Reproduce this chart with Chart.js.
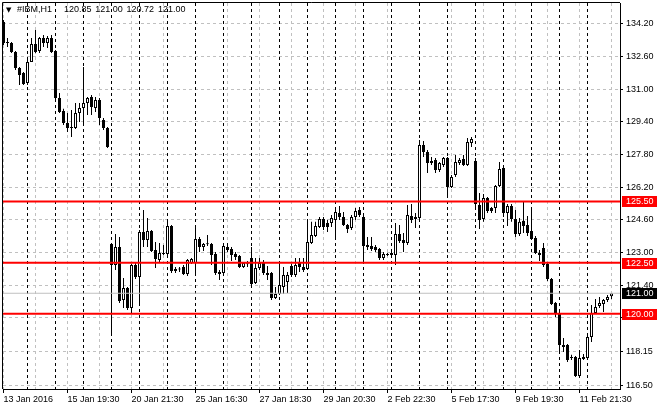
<!DOCTYPE html>
<html>
<head>
<meta charset="utf-8">
<script src="https://cdn.jsdelivr.net/npm/chart.js@4.4.1/dist/chart.umd.min.js"></script>
<style>
  html, body { margin: 0; padding: 0; background: #fff; }
</style>
</head>
<body>
<canvas id="chart" width="660" height="410"></canvas>
<script>
// IBM H1 candles (oldest first)
const symbol = '#IBM,H1';
const opens = [
  134.30, 133.32, 133.27, 132.83, 132.04, 131.80, 131.31, 132.34, 133.22, 132.88,
  133.51, 133.27, 133.51, 132.88, 130.57, 129.94, 129.35, 129.15, 129.10, 129.84,
  130.08, 130.33, 130.62, 130.08, 130.47, 129.49, 129.10, 123.42, 122.39, 123.27,
  120.67, 121.26, 120.28, 122.39, 121.80, 124.00, 123.61, 124.05, 123.12, 122.63,
  122.97, 122.93, 124.30, 122.19, 122.19, 122.29, 121.95, 122.48, 122.48, 123.66,
  123.27, 123.42, 123.42, 122.93, 122.04, 121.99, 123.27, 123.17, 122.93, 122.83,
  122.29, 122.44, 122.73, 121.50, 122.24, 122.48, 121.99, 121.99, 120.77, 120.96,
  121.31, 121.55, 122.34, 121.90, 122.48, 122.29, 122.19, 123.46, 123.81, 124.25,
  124.64, 124.45, 124.45, 124.59, 124.94, 124.74, 124.35, 124.20, 124.74, 125.08,
  124.74, 123.37, 123.32, 123.27, 123.17, 122.73, 122.88, 122.88, 122.88, 123.91,
  123.61, 123.46, 124.79, 124.74, 124.69, 128.27, 127.93, 127.48, 127.53, 127.04,
  127.29, 127.63, 126.21, 126.80, 127.39, 127.58, 127.29, 128.37, 127.48, 125.33,
  124.64, 125.67, 125.18, 125.18, 126.26, 127.14, 124.94, 125.28, 124.64, 123.91,
  124.55, 124.35, 124.05, 123.71, 122.97, 123.22, 122.44, 121.70, 120.52, 120.03,
  118.46, 118.46, 117.88, 117.88, 116.95, 117.88, 117.83, 118.86, 120.03, 120.38,
  120.47, 120.67, 120.85
];
const highs = [
  134.40, 133.51, 133.32, 132.88, 132.09, 131.85, 132.44, 133.51, 133.91, 133.56,
  133.66, 133.61, 133.66, 132.93, 130.82, 130.04, 129.84, 129.98, 130.33, 130.33,
  132.09, 130.62, 130.72, 130.62, 130.57, 129.59, 129.15, 123.46, 123.91, 123.76,
  121.75, 121.31, 122.44, 122.48, 124.10, 125.08, 124.69, 124.10, 123.51, 123.46,
  123.37, 124.64, 124.35, 122.29, 122.29, 122.39, 122.68, 122.73, 124.20, 123.76,
  123.46, 123.86, 123.46, 123.02, 122.14, 123.46, 123.46, 123.27, 123.02, 122.88,
  122.53, 122.58, 123.27, 122.73, 122.73, 122.63, 122.34, 122.04, 121.31, 122.48,
  122.29, 122.04, 122.44, 122.73, 122.73, 122.73, 124.50, 124.50, 124.50, 124.74,
  124.74, 124.59, 124.84, 125.23, 125.28, 124.98, 124.40, 124.84, 125.18, 125.23,
  124.79, 123.76, 123.76, 123.37, 123.22, 123.02, 122.97, 123.12, 124.45, 124.35,
  123.96, 125.33, 125.38, 124.94, 128.51, 128.46, 128.02, 127.68, 127.63, 127.43,
  127.68, 127.68, 126.80, 127.78, 127.63, 127.78, 128.61, 128.66, 127.63, 125.92,
  125.87, 125.72, 125.23, 126.31, 127.43, 127.24, 125.38, 125.38, 125.08, 124.69,
  125.52, 124.79, 125.13, 123.81, 123.12, 123.46, 122.53, 121.75, 120.57, 120.08,
  118.81, 118.51, 117.98, 117.93, 118.22, 118.02, 118.91, 120.42, 120.72, 120.82,
  120.72, 120.91, 121.00
];
const lows = [
  133.17, 133.07, 132.78, 131.94, 131.21, 131.21, 131.21, 132.34, 132.78, 132.78,
  133.07, 133.02, 132.78, 130.47, 129.84, 129.25, 128.90, 128.66, 129.05, 129.40,
  129.25, 129.74, 129.74, 129.89, 129.25, 129.00, 128.12, 118.91, 122.14, 120.52,
  120.28, 120.18, 120.03, 121.70, 120.52, 123.27, 123.27, 123.02, 122.24, 122.53,
  122.88, 122.78, 121.99, 121.99, 122.04, 121.90, 121.85, 122.44, 121.90, 123.02,
  123.07, 123.32, 122.39, 121.90, 121.65, 121.95, 123.02, 122.58, 122.63, 122.24,
  122.24, 122.29, 121.41, 121.45, 122.14, 121.90, 121.65, 120.67, 120.72, 120.91,
  120.96, 121.01, 121.80, 121.80, 122.04, 122.04, 122.14, 123.42, 123.76, 124.20,
  124.10, 124.00, 124.25, 123.71, 124.59, 124.30, 123.96, 124.10, 124.59, 124.74,
  122.53, 123.12, 123.07, 123.02, 122.63, 122.63, 122.83, 122.73, 122.39, 123.46,
  123.02, 123.37, 124.45, 124.20, 124.64, 127.68, 126.90, 127.29, 126.90, 126.94,
  127.19, 125.77, 126.16, 126.70, 127.29, 127.24, 127.24, 128.17, 125.08, 124.15,
  124.50, 124.94, 124.94, 124.94, 126.21, 124.74, 124.30, 124.50, 123.76, 123.81,
  123.96, 123.81, 123.61, 122.93, 122.58, 122.29, 121.60, 120.42, 119.84, 118.12,
  118.12, 117.63, 117.73, 116.90, 116.85, 117.73, 117.78, 118.61, 120.03, 120.28,
  120.08, 120.57, 120.72
];
const closes = [
  133.27, 133.27, 132.83, 132.04, 131.70, 131.26, 132.34, 133.22, 132.83, 133.51,
  133.27, 133.51, 132.83, 130.57, 129.89, 129.35, 129.10, 129.10, 129.84, 130.08,
  130.33, 130.57, 130.13, 130.47, 129.59, 129.10, 128.17, 122.39, 123.27, 120.62,
  121.26, 120.28, 122.39, 121.80, 124.00, 123.61, 124.05, 123.07, 122.68, 122.97,
  122.93, 124.30, 122.09, 122.09, 122.17, 121.95, 122.63, 122.68, 123.66, 123.27,
  123.42, 123.40, 122.88, 121.99, 121.95, 123.32, 123.12, 122.88, 122.78, 122.29,
  122.48, 122.42, 121.45, 122.24, 122.48, 121.99, 121.90, 120.77, 120.96, 121.41,
  121.90, 121.90, 121.90, 122.39, 122.29, 122.14, 123.51, 123.86, 124.30, 124.64,
  124.25, 124.25, 124.69, 124.98, 124.74, 124.35, 124.15, 124.74, 125.03, 124.84,
  123.32, 123.27, 123.17, 123.12, 122.73, 122.93, 122.90, 122.97, 123.91, 123.56,
  123.46, 124.84, 124.59, 124.64, 128.27, 127.93, 127.39, 127.39, 127.04, 127.39,
  127.63, 126.21, 126.70, 127.43, 127.53, 127.29, 128.42, 128.56, 125.38, 124.59,
  125.67, 125.03, 125.03, 126.26, 127.09, 124.94, 125.28, 124.64, 123.91, 124.50,
  124.30, 123.96, 123.66, 122.97, 122.88, 122.39, 121.70, 120.47, 120.03, 118.46,
  118.37, 117.73, 117.83, 116.95, 117.83, 117.78, 118.86, 120.03, 120.33, 120.52,
  120.67, 120.82, 121.00
];

// time axis labels (one every 16 bars), price axis ticks, drawn levels
const xLabels = ['13 Jan 2016', '15 Jan 19:30', '20 Jan 21:30', '25 Jan 16:30', '27 Jan 18:30',
  '29 Jan 20:30', '2 Feb 22:30', '5 Feb 17:30', '9 Feb 19:30', '11 Feb 21:30'];
const yTicks = [116.50, 118.15, 119.80, 121.40, 123.00, 124.60, 126.20, 127.80, 129.40, 131.00, 132.60, 134.20];
const levels = [125.50, 122.50, 120.00];
const bid = 121.00;
const firstSessionBar = 6;   // first bar of 14 Jan
const barsPerSession = 7;

const xMin = -0.125, xMax = 154.125;
const yMin = 116.307, yMax = 135.229;
const FONT = { family: 'Liberation Sans', size: 9 };

const bars = opens.map((_, i) => i);
const last = opens.length - 1;

const everyN = (from, to, step) => {
  const out = [];
  for (let v = from; v <= to; v += step) out.push({ value: v });
  return out;
};

const levelLine = (v, color, width) => ({
  type: 'line',
  xAxisID: 'x',
  data: [{ x: xMin, y: v }, { x: xMax, y: v }],
  borderColor: color,
  borderWidth: width,
  pointRadius: 0,
  order: 0
});

const tagPlugin = {
  id: 'tags',
  afterDraw(chart) {
    const { ctx, chartArea, scales: { y } } = chart;
    ctx.save();
    // frame on the top and left
    ctx.strokeStyle = '#000';
    ctx.lineWidth = 1;
    ctx.beginPath();
    ctx.moveTo(chartArea.left - 0.5, chartArea.bottom);
    ctx.lineTo(chartArea.left - 0.5, chartArea.top - 0.5);
    ctx.lineTo(chartArea.right, chartArea.top - 0.5);
    ctx.stroke();

    ctx.font = '9px "Liberation Sans"';
    ctx.textBaseline = 'middle';
    const tag = (v, bg) => {
      const py = Math.round(y.getPixelForValue(v));
      ctx.fillStyle = bg;
      ctx.fillRect(chartArea.right + 2, py - 5, 35, 11);
      ctx.fillStyle = '#fff';
      ctx.fillText(v.toFixed(2), chartArea.right + 6, py + 0.5);
    };
    tag(bid, '#000');
    levels.forEach(v => tag(v, '#ff0000'));

    // header: symbol and OHLC of the last bar
    ctx.fillStyle = '#000';
    ctx.font = '7px "DejaVu Sans"';
    ctx.fillText('\u25BC', 6, 10);
    ctx.font = '9px "Liberation Sans"';
    ctx.fillText(symbol, 17, 10);
    [opens[last], highs[last], lows[last], closes[last]].forEach((v, k) => {
      ctx.fillText(v.toFixed(2), 64 + k * 31.3, 10);
    });
    ctx.restore();
  }
};

new Chart(document.getElementById('chart'), {
  type: 'bar',
  data: {
    datasets: [
      levelLine(bid, '#c0c0c0', 1),
      ...levels.map(v => levelLine(v, '#ff0000', 2)),
      {
        xAxisID: 'x',
        data: bars.map(i => ({ x: i, y: [opens[i], closes[i]] })),
        backgroundColor: bars.map(i => closes[i] >= opens[i] ? '#fff' : '#000'),
        borderColor: '#000',
        borderWidth: 1,
        borderSkipped: false,
        barThickness: 3,
        minBarLength: 1,
        inflateAmount: 0,
        grouped: false,
        order: 2
      },
      {
        xAxisID: 'x',
        data: bars.map(i => ({ x: i, y: [lows[i], highs[i]] })),
        backgroundColor: '#000',
        borderWidth: 0,
        barThickness: 1,
        minBarLength: 1,
        inflateAmount: 0,
        grouped: false,
        order: 3
      }
    ]
  },
  options: {
    responsive: false,
    animation: false,
    events: [],
    layout: { padding: { left: 3, top: 3, right: 0, bottom: 0 } },
    plugins: { legend: { display: false }, tooltip: { enabled: false } },
    scales: {
      x: {
        type: 'linear',
        position: 'bottom',
        offset: false,
        min: xMin,
        max: xMax,
        afterBuildTicks: s => { s.ticks = everyN(0, last, 8); },
        ticks: {
          autoSkip: false,
          maxRotation: 0,
          minRotation: 0,
          align: 'start',
          padding: 1,
          color: '#000',
          font: FONT,
          callback: v => (v % 16 === 0 ? xLabels[v / 16] : '')
        },
        grid: {
          offset: false,
          color: '#c0c0c0',
          tickColor: c => (c.index % 2 ? 'rgba(0,0,0,0)' : '#000'),
          tickLength: 4,
          tickBorderDash: []
        },
        border: { color: '#000', dash: [3, 3] },
        afterFit: s => { s.height = 21; s.paddingLeft = 0; s.paddingRight = 0; }
      },
      xs: {
        type: 'linear',
        position: 'bottom',
        offset: false,
        min: xMin,
        max: xMax,
        afterBuildTicks: s => { s.ticks = everyN(firstSessionBar, last, barsPerSession); },
        ticks: { display: false },
        grid: { offset: false, color: '#000', drawTicks: false, z: -0.5 },
        border: { display: false, dash: [3, 3] },
        afterFit: s => { s.height = 0; s.paddingLeft = 0; s.paddingRight = 0; }
      },
      y: {
        position: 'right',
        min: yMin,
        max: yMax,
        afterBuildTicks: s => { s.ticks = yTicks.map(v => ({ value: v })); },
        ticks: {
          padding: 3,
          color: '#000',
          font: FONT,
          callback: v => Number(v).toFixed(2)
        },
        grid: { color: '#c0c0c0', tickColor: '#000', tickLength: 3, tickBorderDash: [] },
        border: { color: '#000', dash: [3, 3] },
        afterFit: s => { s.width = 40; s.paddingTop = 0; s.paddingBottom = 0; }
      }
    }
  },
  plugins: [tagPlugin]
});
</script>
</body>
</html>
